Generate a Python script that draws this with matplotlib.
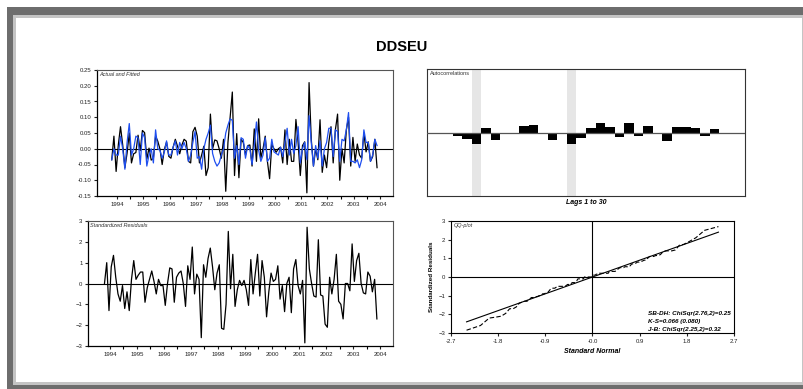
import numpy as np
import matplotlib
matplotlib.use('Agg')
import matplotlib.pyplot as plt
from matplotlib.patches import Rectangle
from statistics import NormalDist

# =================================================================================
# DDSEU diagnostics: actual/fitted, autocorrelations, residuals and QQ-plot
# =================================================================================

plt.rcParams['font.family'] = ['Liberation Sans', 'DejaVu Sans']

# Monthly observations, Nov 1993 .. Dec 2003
start_year = 1993.8
fitted = [-0.035, 0.0, -0.02, -0.02, 0.04, 0.0, -0.065, 0.02, 0.08, -0.02,
          0.0, 0.04, 0.035, -0.05, 0.05, 0.035, -0.055, -0.02, 0.0, -0.045,
          0.06, 0.0, -0.005, -0.03, -0.01, 0.025, -0.02, -0.02, 0.005, 0.025,
          -0.02, 0.02, 0.0, 0.02, 0.0, -0.04, -0.02, 0.02, 0.055, -0.03,
          -0.025, -0.065, 0.0, 0.03, 0.05, 0.075, -0.015, -0.04, -0.055, -0.045,
          -0.02, 0.0, 0.05, 0.075, 0.095, 0.09, -0.03, 0.01, -0.05, 0.035,
          0.03, -0.03, 0.01, 0.0, -0.05, 0.01, 0.085, -0.005, -0.04, -0.02,
          0.035, -0.04, -0.03, 0.03, -0.01, -0.015, -0.02, 0.005, -0.025, 0.02,
          0.065, -0.02, 0.03, -0.015, 0.01, 0.07, -0.045, 0.0, 0.02, -0.035,
          0.105, 0.02, -0.055, 0.01, -0.03, 0.025, -0.055, 0.0, 0.02, 0.065,
          0.065, -0.025, 0.06, 0.055, -0.04, 0.03, 0.025, 0.06, 0.115, -0.04,
          -0.04, -0.045, -0.035, -0.06, -0.035, 0.06, 0.02, 0.02, -0.04, -0.02,
          0.03, 0.01]
actual = [-0.035, 0.04, -0.072, 0.012, 0.07, 0.012, -0.06, -0.014, 0.05, -0.045,
          -0.016, -0.012, 0.043, -0.006, 0.058, 0.051, -0.033, 0.002, -0.036, -0.03,
          0.04, 0.024, -0.001, -0.05, -0.002, 0.021, -0.024, -0.03, 0.005, 0.03,
          0.008, -0.016, 0.012, 0.03, 0.024, -0.04, -0.045, 0.054, 0.068, 0.04,
          -0.045, -0.02, 0.008, -0.085, -0.06, 0.11, 0.0, 0.028, 0.025, 0.0,
          -0.03, 0.03, -0.135, 0.02, 0.1, 0.18, -0.085, 0.048, -0.092, 0.03,
          0.02, -0.02, 0.01, 0.012, -0.055, 0.063, -0.04, 0.095, -0.03, 0.0,
          0.04, -0.04, -0.095, 0.014, 0.0, -0.011, 0.0, 0.005, -0.045, 0.06,
          -0.05, 0.03, -0.04, -0.04, 0.093, 0.02, -0.085, 0.01, 0.022, -0.14,
          0.21, 0.03, -0.055, 0.0, -0.035, 0.092, -0.075, -0.02, -0.06, 0.02,
          0.07, -0.045, 0.06, 0.11, -0.1, 0.0, -0.045, 0.06, 0.1, -0.055,
          0.036, -0.04, 0.015, -0.02, -0.03, 0.05, -0.01, 0.022, -0.04, -0.025,
          0.03, -0.06]
std_resid = [0.0, 1.0, -1.3, 0.8, 1.35, 0.3, -0.5, -0.85, -0.1, -1.2,
             -0.4, -1.3, 0.2, 1.1, 0.2, 0.4, 0.55, 0.55, -0.9, -0.2,
             0.2, 0.6, 0.1, -0.5, 0.2, -0.1, -0.1, -1.05, 0.0, 0.75,
             0.7, -0.9, 0.3, 0.5, 0.6, 0.0, -1.1, 0.85, 0.2, 1.75,
             -0.5, 0.45, 0.2, -2.6, 0.9, 0.3, 1.2, 1.7, 0.8, -0.3,
             0.5, 0.9, -2.15, -2.2, -1.0, 2.5, -0.25, 1.4, -1.1, -0.3,
             0.15, -0.1, 0.15, -0.3, -1.05, 1.15, -0.5, 0.5, 1.4, -0.6,
             1.1, 0.3, -1.6, -0.4, 0.5, 0.1, 0.2, 0.85, -0.75, -0.1,
             -1.35, 0.0, 0.3, -1.4, 0.7, 1.15, -0.1, -0.5, 0.15, -2.85,
             2.7, 0.7, 0.0, -0.6, -0.65, 2.1, -0.55, -0.6, -1.95, -2.1,
             0.3, -0.5, 0.2, 1.4, -0.85, -1.0, -1.7, 0.0, 0.0, -0.35,
             1.9, 0.1, 1.1, 1.45, 0.0, -0.45, -0.5, 0.55, 0.35, -0.4,
             0.2, -1.7]

# Autocorrelations of residuals, lags 1..30
lags = list(range(1, 31))
acf = [-0.015, -0.05, -0.095, -0.18, 0.07, -0.115, -0.01, 0.0, 0.11, 0.12,
       -0.03, -0.115, 0.0, -0.18, -0.08, 0.065, 0.15, 0.09, -0.075, 0.155,
       -0.05, 0.105, 0.0, -0.14, 0.09, 0.085, 0.065, -0.05, 0.05, 0.0]
acf_marked = [4, 14]

years = list(range(1994, 2005))
qq_ticks = [-2.7, -1.8, -0.9, 0.0, 0.9, 1.8, 2.7]
qq_tick_labels = ['-2.7', '-1.8', '-0.9', '-0.0', '0.9', '1.8', '2.7']
stats_text = ['SB-DH: ChiSqr(2.76,2)=0.25', 'K-S=0.066 (0.080)', 'J-B: ChiSqr(2.25,2)=0.32']

W, H = 804, 389
fig = plt.figure(figsize=(W / 100, H / 100), dpi=100)


def px_rect(x0, y0, x1, y1, color):
    fig.add_artist(Rectangle((x0 / W, 1 - y1 / H), (x1 - x0) / W, (y1 - y0) / H,
                             transform=fig.transFigure, color=color, zorder=-10, lw=0))


def px_axes(x0, y0, x1, y1):
    return fig.add_axes([x0 / W, 1 - y1 / H, (x1 - x0) / W, (y1 - y0) / H])


# grey frame around the page
px_rect(7, 7, 804, 389, '#6d6d6d')
px_rect(13, 15, 804, 385, '#c4c4c4')
px_rect(16, 18, 802, 382, 'white')

fig.text(402 / W, 1 - 47 / H, 'DDSEU', ha='center', va='center',
         fontsize=10.5, fontweight='bold')

TICK = dict(labelsize=4.3, length=2.5, width=0.8, pad=1.5, colors='#222')


def frame(ax):
    for s in ['left', 'bottom']:
        ax.spines[s].set_color('black')
        ax.spines[s].set_linewidth(0.9)
    for s in ['top', 'right']:
        ax.spines[s].set_color('#555555')
        ax.spines[s].set_linewidth(0.8)


def time_axis(ax):
    ax.set_xticks(years)
    ax.set_xticklabels([str(y) for y in years])
    ax.set_xticks([y + 0.5 for y in years[:-1]], minor=True)
    ax.tick_params(axis='both', **TICK)
    ax.tick_params(axis='x', which='minor', length=2.5, width=0.8)


dates = start_year + np.arange(len(actual)) / 12.0

# Actual and fitted
ax1 = px_axes(97, 70, 393, 196)
frame(ax1)
ax1.axhline(0, color='black', lw=0.8)
ax1.plot(dates, actual, color='black', lw=0.9)
ax1.plot(dates, fitted, color='#1f4ff0', lw=0.9)
ax1.set_xlim(1993.24, 2004.49)
ax1.set_ylim(-0.15, 0.25)
ax1.set_yticks(np.arange(-0.15, 0.26, 0.05))
ax1.yaxis.set_major_formatter(matplotlib.ticker.FormatStrFormatter('%.2f'))
time_axis(ax1)
ax1.text(0.008, 0.985, 'Actual and Fitted', transform=ax1.transAxes,
         fontsize=4, style='italic', va='top', color='#333')

# Autocorrelations
ax2 = px_axes(427, 69, 745, 196)
for s in ax2.spines.values():
    s.set_color('#333333')
    s.set_linewidth(0.8)
for lag in acf_marked:
    ax2.axvspan(lag - 0.5, lag + 0.5, color='#e6e6e6', lw=0, zorder=0)
ax2.bar(lags, acf, width=1.0, color='black', zorder=2)
ax2.axhline(0, color='#555555', lw=0.9, zorder=3)
ax2.set_xlim(-1.18, 32.18)
ax2.set_ylim(-1, 1)
ax2.set_xticks([])
ax2.set_yticks([])
ax2.text(0.008, 0.985, 'Autocorrelations', transform=ax2.transAxes,
         fontsize=4, va='top', color='#333')
ax2.set_xlabel('Lags 1 to 30', fontsize=5, style='italic', fontweight='bold', labelpad=2)

# Standardized residuals
ax3 = px_axes(88, 221, 393, 346)
frame(ax3)
ax3.axhline(0, color='black', lw=0.8)
ax3.plot(dates, std_resid, color='black', lw=0.9)
ax3.set_xlim(1993.19, 2004.48)
ax3.set_ylim(-3, 3)
ax3.set_yticks(range(-3, 4))
time_axis(ax3)
ax3.text(0.008, 0.985, 'Standardized Residuals', transform=ax3.transAxes,
         fontsize=4, style='italic', va='top', color='#333')

# QQ-plot
n = len(std_resid)
quant = [NormalDist().inv_cdf((i + 1) / (n + 1)) for i in range(n)]
ax4 = px_axes(451, 221, 734, 333)
for s in ax4.spines.values():
    s.set_color('black')
    s.set_linewidth(0.8)
ax4.axhline(0, color='black', lw=0.8)
ax4.axvline(0, color='black', lw=0.8)
ax4.plot([quant[0], quant[-1]], [quant[0], quant[-1]], color='black', lw=0.8)
ax4.plot(quant, sorted(std_resid), color='black', lw=0.8, dashes=(4, 2))
ax4.set_xlim(-2.7, 2.7)
ax4.set_ylim(-3, 3)
ax4.set_xticks(qq_ticks)
ax4.set_xticklabels(qq_tick_labels)
ax4.set_yticks(range(-3, 4))
ax4.tick_params(axis='both', **TICK)
ax4.text(0.01, 0.985, 'QQ-plot', transform=ax4.transAxes,
         fontsize=4, style='italic', va='top', color='#333')
ax4.set_xlabel('Standard Normal', fontsize=5, style='italic', fontweight='bold', labelpad=3)
ax4.set_ylabel('Standardized Residuals', fontsize=4.5, fontweight='bold', labelpad=3)
for k, line in enumerate(stats_text):
    ax4.text(0.695, 0.17 - k * 0.07, line, transform=ax4.transAxes,
             fontsize=4.6, style='italic', fontweight='bold', va='center')

fig.savefig('out.png', dpi=100)
